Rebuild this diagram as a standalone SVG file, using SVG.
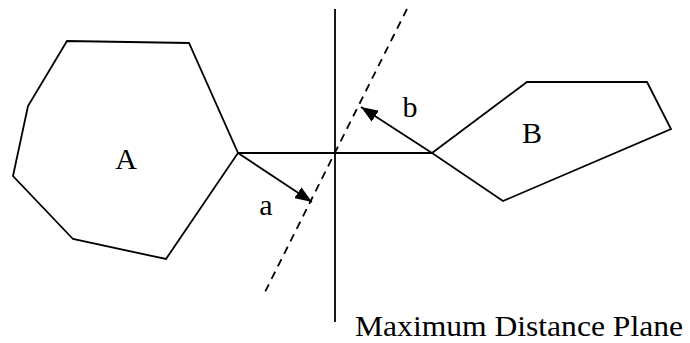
<svg xmlns="http://www.w3.org/2000/svg" width="690" height="343" viewBox="0 0 690 343">
  <style>
    .shape { fill: none; stroke: #000; stroke-width: 1.8; stroke-linejoin: miter; }
    .line { stroke: #000; stroke-width: 1.8; fill: none; }
    .dash { stroke: #000; stroke-width: 1.8; fill: none; stroke-dasharray: 8 6; }
    .lbl { font-family: "Liberation Serif", "Times New Roman", serif; font-size: 30px; fill: #000; }
  </style>
  <defs>
    <marker id="arrow" markerUnits="userSpaceOnUse" markerWidth="17" markerHeight="13" refX="17" refY="6.5" orient="auto" viewBox="0 0 17 13">
      <path d="M0,0 L17,6.5 L0,13 z" fill="#000"/>
    </marker>
  </defs>
  <rect width="690" height="343" fill="#fff"/>
  <g id="nodeA">
    <polygon class="shape" points="67,41 189,43 238,153 166,259 73,239 13,176 28,106"/>
    <text class="lbl" x="126" y="169" text-anchor="middle">A</text>
  </g>
  <g id="nodeB">
    <polygon class="shape" points="432,153 527,82 647,82 671,129 503,201"/>
    <text class="lbl" x="532" y="143" text-anchor="middle">B</text>
  </g>
  <g id="plane">
    <line class="line" x1="335" y1="9" x2="335" y2="322"/>
    <text class="lbl" x="355" y="336" font-size="31" textLength="328" lengthAdjust="spacingAndGlyphs">Maximum Distance Plane</text>
  </g>
  <g id="connectors">
    <line class="line" x1="238" y1="153" x2="432" y2="153"/>
    <line class="dash" x1="407" y1="9" x2="265" y2="292"/>
    <line class="line" x1="238" y1="153" x2="312" y2="202" marker-end="url(#arrow)"/>
    <line class="line" x1="432" y1="153" x2="361" y2="107" marker-end="url(#arrow)"/>
    <text class="lbl" x="266" y="215" text-anchor="middle">a</text>
    <text class="lbl" x="410" y="117" text-anchor="middle">b</text>
  </g>
</svg>
